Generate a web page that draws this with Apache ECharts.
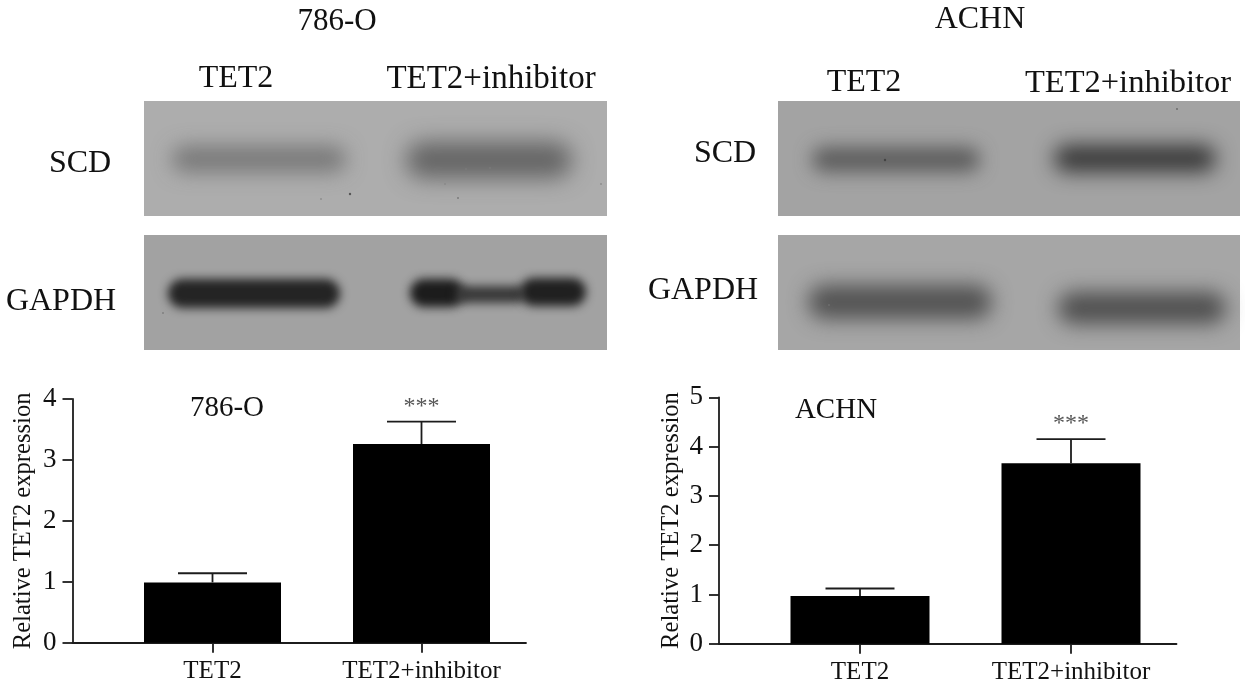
<!DOCTYPE html>
<html>
<head>
<meta charset="utf-8">
<style>
  html, body { margin: 0; padding: 0; background: #fff; }
  #main { width: 1245px; height: 686px; }
</style>
<script src="https://cdn.jsdelivr.net/npm/echarts@6/dist/echarts.min.js"></script>
</head>
<body>
<div id="main"></div>
<script>
var categories = ['TET2', 'TET2+inhibitor']
var cells786 = [0.99, 3.26]
var errTop786 = [1.14, 3.63]
var cellsAchn = [0.97, 3.66]
var errTopAchn = [1.12, 4.15]
var sigMarks = ['', '***']

var serif = '"Liberation Serif", "Times New Roman", serif'
var ink = '#1c1c1c'
var OFF = 3000

function txt(s, x, y, size, color) {
  return {
    type: 'text', z: 20,
    style: { text: s, x: x, y: y, fill: color || '#111', font: size + 'px ' + serif, align: 'center', verticalAlign: 'middle' }
  }
}
function panel(x, y, w, h, color) {
  return { type: 'rect', z: 1, shape: { x: x, y: y, width: w, height: h }, style: { fill: color } }
}
// one soft band of a blot: the rect itself sits off canvas, only its blurred shadow lands on the panel
function band(x0, y0, x1, y1, color, blur) {
  return {
    type: 'rect', z: 2, silent: true,
    shape: { x: x0 - OFF, y: y0, width: x1 - x0, height: y1 - y0, r: (y1 - y0) / 2 },
    style: { fill: '#000', shadowBlur: blur, shadowColor: color, shadowOffsetX: OFF }
  }
}
function speck(x, y, r, color) {
  return { type: 'circle', z: 3, shape: { cx: x, cy: y, r: r }, style: { fill: color || '#7a7a7a' } }
}

var blots = [
  panel(144, 101, 463, 115, '#adadad'),
  panel(144, 235, 463, 115, '#a2a2a2'),
  panel(778, 101, 462, 115, '#a3a3a3'),
  panel(778, 235, 462, 115, '#a6a6a6'),

  // 786-O SCD
  band(172, 146, 346, 172, 'rgba(108,108,108,0.8)', 20),
  band(406, 142, 572, 178, 'rgba(88,88,88,0.85)', 22),
  // 786-O GAPDH
  band(168, 279, 340, 308, 'rgba(34,34,34,0.98)', 10),
  band(410, 279, 464, 307, 'rgba(25,25,25,0.98)', 10),
  band(455, 286, 525, 303, 'rgba(52,52,52,0.95)', 10),
  band(520, 278, 586, 306, 'rgba(30,30,30,0.98)', 10),
  // ACHN SCD
  band(812, 147, 980, 172, 'rgba(78,78,78,0.82)', 18),
  band(1054, 145, 1216, 172, 'rgba(48,48,48,0.92)', 20),
  // ACHN GAPDH
  band(808, 285, 992, 319, 'rgba(72,72,72,0.88)', 20),
  band(1058, 292, 1226, 324, 'rgba(68,68,68,0.88)', 20),

  speck(350, 194, 1.2, '#555'), speck(321, 199, 0.8), speck(458, 198, 1), speck(601, 184, 0.8),
  speck(466, 169, 1), speck(490, 168, 1), speck(445, 184, 0.7), speck(163, 313, 0.8, '#666'),
  speck(885, 160, 1.2, '#444'), speck(1177, 109, 0.9, '#666'), speck(829, 305, 0.8),

  txt('786-O', 337, 22, 31),
  txt('ACHN', 980, 20, 32),
  txt('TET2', 236, 79, 32),
  txt('TET2+inhibitor', 491, 79, 33),
  txt('TET2', 864, 83, 32),
  txt('TET2+inhibitor', 1128, 83, 32.5),
  txt('SCD', 80, 164, 32),
  txt('GAPDH', 61, 302, 32),
  txt('SCD', 725, 154, 32),
  txt('GAPDH', 703, 291, 32),
  txt('786-O', 227, 408, 29),
  txt('ACHN', 836, 410, 29)
]

var grids = [], xAxes = [], yAxes = [], series = []

// a panel is two grids: the outer one holds the axis spine, the inner one the two category bands
function addChart(o) {
  var base = grids.length
  grids.push({ left: o.axisX, top: o.top, width: o.right - o.axisX, height: o.height })
  grids.push({ left: o.bandX, top: o.top, width: o.right - o.bandX, height: o.height })
  xAxes.push({
    gridIndex: base, type: 'value', min: 0, max: 1,
    axisLine: { show: true, onZero: false, lineStyle: { color: ink, width: 1.8 } },
    axisTick: { show: false }, axisLabel: { show: false }, splitLine: { show: false }
  })
  xAxes.push({
    gridIndex: base + 1, type: 'category', data: categories,
    axisLine: { show: false },
    axisTick: { show: true, alignWithLabel: true, length: 10, lineStyle: { color: ink, width: 1.8 } },
    axisLabel: { color: '#111', fontFamily: serif, fontSize: 25, margin: 16 }
  })
  yAxes.push({
    gridIndex: base, type: 'value', min: 0, max: o.max, interval: 1,
    name: 'Relative TET2 expression', nameLocation: 'middle', nameRotate: 90, nameGap: o.nameGap,
    nameTextStyle: { color: '#111', fontFamily: serif, fontSize: 24.6 },
    axisLine: { show: true, lineStyle: { color: ink, width: 1.8 } },
    axisTick: { show: true, length: 10, lineStyle: { color: ink, width: 1.8 } },
    axisLabel: { color: '#111', fontFamily: serif, fontSize: 27, margin: 16 },
    splitLine: { show: false }
  })
  yAxes.push({ gridIndex: base + 1, type: 'value', min: 0, max: o.max, show: false, splitLine: { show: false } })

  series.push({
    type: 'bar', xAxisIndex: base + 1, yAxisIndex: base + 1,
    data: o.values, barWidth: o.barWidth,
    itemStyle: { color: '#000' }, animation: false, silent: true
  })
  series.push({
    type: 'custom', xAxisIndex: base + 1, yAxisIndex: base + 1,
    data: o.values.map(function(v, i) { return [i, v, o.tops[i]] }),
    animation: false, silent: true, z: 5,
    renderItem: function(params, api) {
      var bottom = api.coord([api.value(0), api.value(1)])
      var top = api.coord([api.value(0), api.value(2)])
      var lineStyle = { stroke: ink, lineWidth: 1.8 }
      return {
        type: 'group',
        children: [
          { type: 'line', shape: { x1: top[0], y1: bottom[1], x2: top[0], y2: top[1] }, style: lineStyle },
          { type: 'line', shape: { x1: top[0] - 34.5, y1: top[1], x2: top[0] + 34.5, y2: top[1] }, style: lineStyle },
          {
            type: 'text',
            style: {
              text: sigMarks[params.dataIndex], x: top[0], y: top[1] - 15, fill: '#555',
              font: '24px ' + serif, align: 'center', verticalAlign: 'middle'
            }
          }
        ]
      }
    }
  })
}

addChart({ axisX: 72.5, bandX: 108, right: 526, top: 399, height: 243.7, max: 4, barWidth: 137, nameGap: 36, values: cells786, tops: errTop786 })
addChart({ axisX: 719, bandX: 754.5, right: 1176.5, top: 397.3, height: 246.4, max: 5, barWidth: 139, nameGap: 35, values: cellsAchn, tops: errTopAchn })

var myChart = echarts.init(document.getElementById('main'))
myChart.setOption({
  backgroundColor: '#fff',
  animation: false,
  grid: grids,
  xAxis: xAxes,
  yAxis: yAxes,
  series: series,
  graphic: { elements: blots }
})
</script>
</body>
</html>
